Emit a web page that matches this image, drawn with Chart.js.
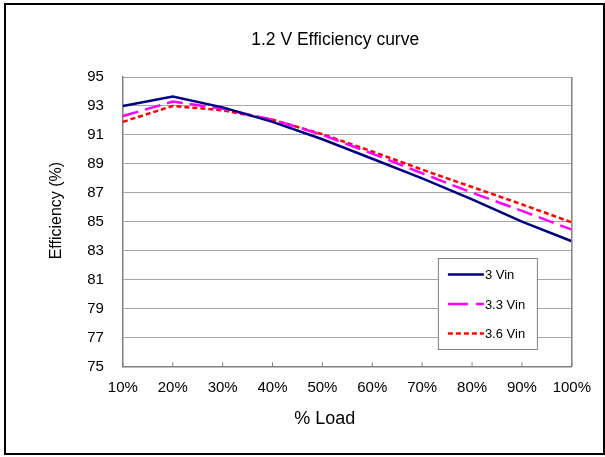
<!DOCTYPE html>
<html>
<head>
<meta charset="utf-8">
<script src="https://cdn.jsdelivr.net/npm/chart.js@4.4.1/dist/chart.umd.min.js"></script>
<style>
  body { margin: 0; background: #fff; }
  #frame {
    position: absolute; left: 4px; top: 3px;
    width: 597px; height: 448px;
    border: 2px solid #000; background: #fff;
  }
  #wrap { position: absolute; left: 0; top: 0; width: 597px; height: 448px; }
</style>
</head>
<body>
<div id="frame"><div id="wrap"><canvas id="myChart"></canvas></div></div>
<script>
// categories and series
const loadLabels = ['10%', '20%', '30%', '40%', '50%', '60%', '70%', '80%', '90%', '100%'];
const vin30 = [93.0, 93.65, 92.9, 91.9, 90.7, 89.35, 88.0, 86.55, 85.0, 83.65];
const vin33 = [92.3, 93.3, 92.8, 92.05, 91.0, 89.7, 88.35, 87.0, 85.75, 84.45];
const vin36 = [91.9, 93.0, 92.7, 92.05, 91.05, 89.85, 88.6, 87.4, 86.2, 84.95];
const seriesNames = ['3 Vin', '3.3 Vin', '3.6 Vin'];
const yMin = 75, yMax = 95, yStep = 2;

const FONT = 'Liberation Sans, Arial, sans-serif';

// plot frame, inward x ticks and the legend box inside the plot
const framePlugin = {
    id: 'framePlugin',
    afterDraw(chart) {
        const ctx = chart.ctx;
        const a = chart.chartArea;
        const xs = chart.scales.x;
        ctx.save();
        // right border of plot area
        ctx.strokeStyle = '#808080';
        ctx.lineWidth = 1.5;
        ctx.beginPath();
        ctx.moveTo(a.right, a.top);
        ctx.lineTo(a.right, a.bottom);
        ctx.stroke();
        // inward tick marks on the x axis
        ctx.lineWidth = 1;
        for (let i = 0; i < xs.ticks.length; i++) {
            const px = xs.getPixelForTick(i);
            ctx.beginPath();
            ctx.moveTo(px, a.bottom);
            ctx.lineTo(px, a.bottom - 4);
            ctx.stroke();
        }
        // legend
        const bx = a.left + 315, by = a.top + 181, bw = 99, bh = 91;
        const legendDash = [[], [20, 8], [5, 3]];
        ctx.fillStyle = '#fff';
        ctx.fillRect(bx, by, bw, bh);
        ctx.strokeStyle = '#808080';
        ctx.lineWidth = 1;
        ctx.strokeRect(bx + 0.5, by + 0.5, bw, bh);
        ctx.font = '13px ' + FONT;
        ctx.textBaseline = 'middle';
        chart.data.datasets.forEach((ds, i) => {
            const ly = by + 16.5 + i * 29.5;
            ctx.strokeStyle = ds.borderColor;
            ctx.lineWidth = ds.borderWidth;
            ctx.setLineDash(legendDash[i]);
            ctx.beginPath();
            ctx.moveTo(bx + 10, ly);
            ctx.lineTo(bx + 46, ly);
            ctx.stroke();
            ctx.setLineDash([]);
            ctx.fillStyle = '#000';
            ctx.fillText(ds.label, bx + 47, ly + 1);
        });
        ctx.restore();
    }
};

const ctx = document.getElementById('myChart').getContext('2d');

new Chart(ctx, {
    type: 'line',
    data: {
        labels: loadLabels,
        datasets: [
            {
                label: seriesNames[0],
                data: vin30,
                borderColor: '#000080',
                borderWidth: 2.5,
                pointRadius: 0,
                tension: 0
            },
            {
                label: seriesNames[1],
                data: vin33,
                borderColor: '#FF00FF',
                borderWidth: 2.5,
                borderDash: [16, 7],
                pointRadius: 0,
                tension: 0
            },
            {
                label: seriesNames[2],
                data: vin36,
                borderColor: '#FF0000',
                borderWidth: 2.5,
                borderDash: [5, 3],
                pointRadius: 0,
                tension: 0
            }
        ]
    },
    plugins: [framePlugin],
    options: {
        responsive: true,
        maintainAspectRatio: false,
        animation: false,
        layout: {
            padding: { left: 41, right: 30, top: 25, bottom: 20 }
        },
        scales: {
            x: {
                offset: false,
                grid: { display: false, drawTicks: false },
                border: { display: true, color: '#808080', width: 1.5 },
                ticks: {
                    color: '#000',
                    padding: 12,
                    maxRotation: 0,
                    autoSkip: false,
                    font: { family: FONT, size: 15 }
                },
                title: {
                    display: true,
                    text: '% Load         ',
                    color: '#000',
                    padding: { top: 0, bottom: 3 },
                    font: { family: FONT, size: 18 }
                }
            },
            y: {
                min: yMin,
                max: yMax,
                grid: { color: '#a6a6a6', lineWidth: 1, drawTicks: false },
                border: { display: true, color: '#808080', width: 1.5 },
                ticks: {
                    stepSize: yStep,
                    color: '#000',
                    padding: 19,
                    font: { family: FONT, size: 15 }
                },
                title: {
                    display: true,
                    text: '     Efficiency (%)',
                    color: '#000',
                    padding: { top: 0, bottom: 2 },
                    font: { family: FONT, size: 16 }
                }
            }
        },
        plugins: {
            legend: { display: false },
            tooltip: { enabled: false },
            title: {
                display: true,
                text: '1.2 V Efficiency curve     ',
                color: '#000',
                fullSize: false,
                padding: { top: 0, bottom: 26 },
                font: { family: FONT, size: 17.5, weight: 'normal' }
            }
        }
    }
});
</script>
</body>
</html>
